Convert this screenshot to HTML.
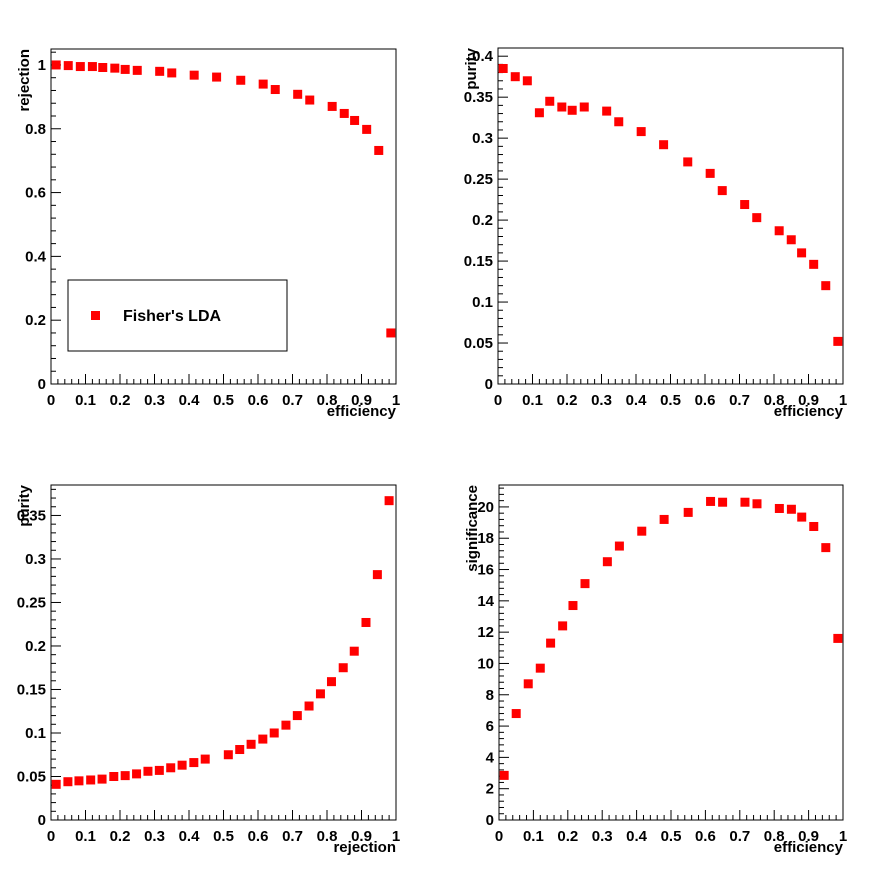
<!DOCTYPE html>
<html><head><meta charset="utf-8"><style>
body{margin:0;background:#fff;}
svg{display:block;font-family:"Liberation Sans",Arial,sans-serif;font-weight:bold;}
</style></head><body>
<svg id="c" width="896" height="872" viewBox="0 0 896 872"></svg>
<script>
const effX = [0.015,0.05,0.085,0.12,0.15,0.185,0.215,0.25,0.315,0.35,0.415,0.48,0.55,0.615,0.65,0.715,0.75,0.815,0.85,0.88,0.915,0.95,0.985];
const rejectionVals = [1.0,0.998,0.995,0.995,0.992,0.99,0.986,0.983,0.98,0.975,0.968,0.962,0.952,0.94,0.923,0.908,0.89,0.87,0.848,0.826,0.798,0.732,0.16];
const purityVals = [0.385,0.375,0.37,0.331,0.345,0.338,0.334,0.338,0.333,0.32,0.308,0.292,0.271,0.257,0.236,0.219,0.203,0.187,0.176,0.16,0.146,0.12,0.052];
const significanceVals = [2.85,6.8,8.7,9.7,11.3,12.4,13.7,15.1,16.5,17.5,18.45,19.2,19.65,20.35,20.3,20.3,20.2,19.9,19.85,19.35,18.75,17.4,11.6];
const rejX = [0.015,0.049,0.081,0.115,0.148,0.182,0.215,0.248,0.281,0.314,0.347,0.38,0.414,0.447,0.514,0.547,0.58,0.614,0.647,0.681,0.714,0.748,0.781,0.813,0.847,0.879,0.913,0.946,0.98];
const rejPurity = [0.041,0.044,0.045,0.046,0.047,0.05,0.051,0.053,0.056,0.057,0.06,0.063,0.066,0.07,0.075,0.081,0.087,0.093,0.1,0.109,0.12,0.131,0.145,0.159,0.175,0.194,0.227,0.282,0.367];
const xTickLabels = ["0","0.1","0.2","0.3","0.4","0.5","0.6","0.7","0.8","0.9","1"];
const yTicks1 = ["0","0.2","0.4","0.6","0.8","1"];
const yTicks2 = ["0","0.05","0.1","0.15","0.2","0.25","0.3","0.35","0.4"];
const yTicks3 = ["0","0.05","0.1","0.15","0.2","0.25","0.3","0.35"];
const yTicks4 = ["0","2","4","6","8","10","12","14","16","18","20"];

const svg = document.getElementById('c');
const NS = 'http://www.w3.org/2000/svg';
function mk(tag, attrs, parent){
  const e = document.createElementNS(NS, tag);
  for (const k in attrs) e.setAttribute(k, attrs[k]);
  (parent||svg).appendChild(e); return e;
}
function pad(name, x0, x1, y0, y1, ymax, yTicks, yMinorStep, xs, ys, xTitle, yTitle){
  const g = mk('g', {});
  
  
  const sx = v => x0 + v*(x1-x0);
  const sy = v => y1 - v/ymax*(y1-y0);
  const fr = mk('rect', {x:x0, y:y0, width:x1-x0, height:y1-y0, fill:'none', stroke:'#000', 'stroke-width':1}, g);
  
  
  // x ticks
  for (let i=0;i<=50;i++){
    const v=i/50, len = i%5===0?10:5;
    mk('line',{x1:sx(v),x2:sx(v),y1:y1,y2:y1-len,stroke:'#000','stroke-width':1},g);
  }
  xTickLabels.forEach((t,i)=>{
    const tx = mk('text',{x:sx(i/10),y:y1+21,'text-anchor':'middle','font-size':15},g);
    tx.textContent=t;
    
    
  });
  // y ticks
  const majStep = parseFloat(yTicks[1]);
  for (let v=0; v<=ymax+1e-9; v+=yMinorStep){
    const r = v/majStep; const major = Math.abs(r-Math.round(r))<1e-6;
    mk('line',{x1:x0,x2:x0+(major?10:5),y1:sy(v),y2:sy(v),stroke:'#000','stroke-width':1},g);
  }
  yTicks.forEach(t=>{
    const tx = mk('text',{x:x0-5,y:sy(parseFloat(t))+5,'text-anchor':'end','font-size':15},g);
    tx.textContent=t;
    
    
  });
  const xt = mk('text',{x:x1,y:y1+32,'text-anchor':'end','font-size':15},g);
  xt.textContent = xTitle;
  
  
  const yt = mk('text',{x:0,y:0,'text-anchor':'end','font-size':15,transform:`translate(${x0-22},${y0}) rotate(-90)`},g);
  yt.textContent = yTitle;
  
  
  xs.forEach((xv,i)=>{
    const m = mk('rect',{x:sx(xv)-4.5,y:sy(ys[i])-4.5,width:9,height:9,fill:'#f00'},g);
    
    
  });
  return g;
}
pad('rejection-vs-efficiency-pad',51,396,49,384,1.05,yTicks1,0.04,effX,rejectionVals,'efficiency','rejection');
pad('purity-vs-efficiency-pad',498,843,48,384,0.41,yTicks2,0.01,effX,purityVals,'efficiency','purity');
pad('purity-vs-rejection-pad',51,396,485,820,0.385,yTicks3,0.01,rejX,rejPurity,'rejection','purity');
pad('significance-vs-efficiency-pad',499,843,485,820,21.4,yTicks4,0.4,effX,significanceVals,'efficiency','significance');
// legend
const lg = mk('g',{});


mk('rect',{x:68,y:280,width:219,height:71,fill:'#fff',stroke:'#000','stroke-width':1},lg);
const lm = mk('rect',{x:91,y:311,width:9,height:9,fill:'#f00'},lg);


const lt = mk('text',{x:123,y:321,'font-size':16},lg);
lt.textContent = "Fisher's LDA";


</script>
</body></html>
